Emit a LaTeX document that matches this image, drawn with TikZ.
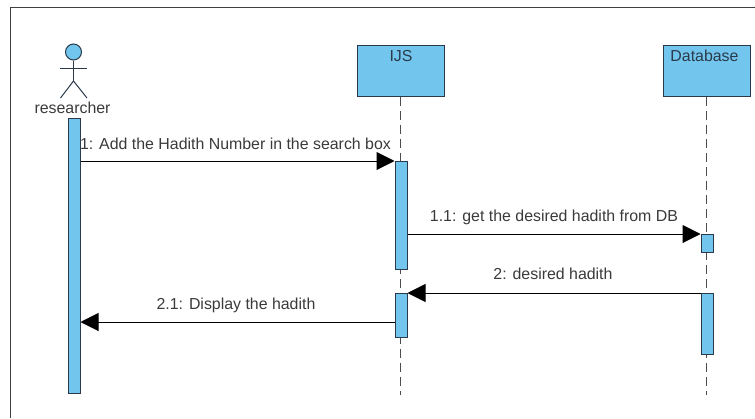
\documentclass[tikz,border=0pt]{standalone}
\usepackage{fontspec}
\setmainfont{Liberation Sans}
\usetikzlibrary{arrows.meta}
\definecolor{barblue}{HTML}{72C6EE}
\definecolor{edgedark}{HTML}{2B3A4A}
\definecolor{labelgrey}{HTML}{3A3A3A}
\tikzset{
	lifebox/.style={draw=edgedark, fill=barblue, line width=1pt, minimum width=87pt, minimum height=51pt, inner sep=0pt},
	actbar/.style={draw=edgedark, fill=barblue, line width=1pt, minimum width=12pt, inner sep=0pt, anchor=north},
	boxtext/.style={text=edgedark, font=\fontsize{15.9}{18}\selectfont, inner sep=0pt},
	msgtext/.style={text=labelgrey, font=\fontsize{15.9}{18}\selectfont, inner sep=0pt},
	lifeline/.style={draw=black!70, line width=1pt, dash pattern=on 9pt off 5pt},
	msg/.style={-{Triangle[length=18pt,width=18pt]}, draw=black, line width=1pt}
}
\begin{document}
\begin{tikzpicture}[x=1pt,y=-1pt]
		\useasboundingbox (0,0) rectangle (755,418);
		% frame
		\coordinate (fa) at (10,418);
		\coordinate (fb) at (10,7);
		\coordinate (fc) at (755,7);
		\draw [black!75, line width=1pt] (fa) -- (fb) -- (fc);
		% lifelines
		\node (ijs) [lifebox] at (400.5,70.5) {};
		\node (db) [lifebox] at (706.5,70.5) {};
		\node (ijstext) [boxtext] at (401,56) {IJS};
		\node (dbtext) [boxtext] at (704.5,56) {Database};
		\coordinate (ijsend) at (400.5,395);
		\coordinate (dbend) at (706.5,395);
		\draw [lifeline] (ijs) -- (ijsend);
		\draw [lifeline] (db) -- (dbend);
		% actor
		\node (head) [circle, draw=edgedark, fill=barblue, line width=1pt, minimum size=16pt, inner sep=0pt] at (73.5,52) {};
		\coordinate (hip) at (73.5,81);
		\coordinate (arml) at (60,68);
		\coordinate (armr) at (87,68);
		\coordinate (legl) at (60.5,98);
		\coordinate (legr) at (87,98);
		\draw [edgedark, line width=1pt] (head) -- (hip);
		\draw [edgedark, line width=1pt] (arml) -- (armr);
		\draw [edgedark, line width=1pt] (legl) -- (hip) -- (legr);
		\node (researcher) [msgtext] at (72.5,108) {researcher};
		% bars
		\node (r1) [actbar, minimum height=275.5pt] at (74,117.5) {};
		\node (i1) [actbar, minimum height=108pt] at (401,161) {};
		\node (i2) [actbar, minimum height=44pt] at (401,293) {};
		\node (d1) [actbar, minimum height=18pt] at (707,234) {};
		\node (d2) [actbar, minimum height=61pt] at (707,293) {};
		% messages
		\coordinate (m4) at (0,322);
		\draw [msg] (r1.east |- i1.north) -- (i1.north west);
		\draw [msg] (i1.east |- d1.north) -- (d1.north west);
		\draw [msg] (d2.north west) -- (i2.north east);
		\draw [msg] (i2.west |- m4) -- (r1.east |- m4);
		\node (t1) [msgtext] at (235.5,144) {1: Add the Hadith Number in the search box};
		\node (t2) [msgtext] at (554,217) {1.1: get the desired hadith from DB};
		\node (t3) [msgtext] at (553,274) {2: desired hadith};
		\node (t4) [msgtext] at (236,305) {2.1: Display the hadith};
\end{tikzpicture}
\end{document}
